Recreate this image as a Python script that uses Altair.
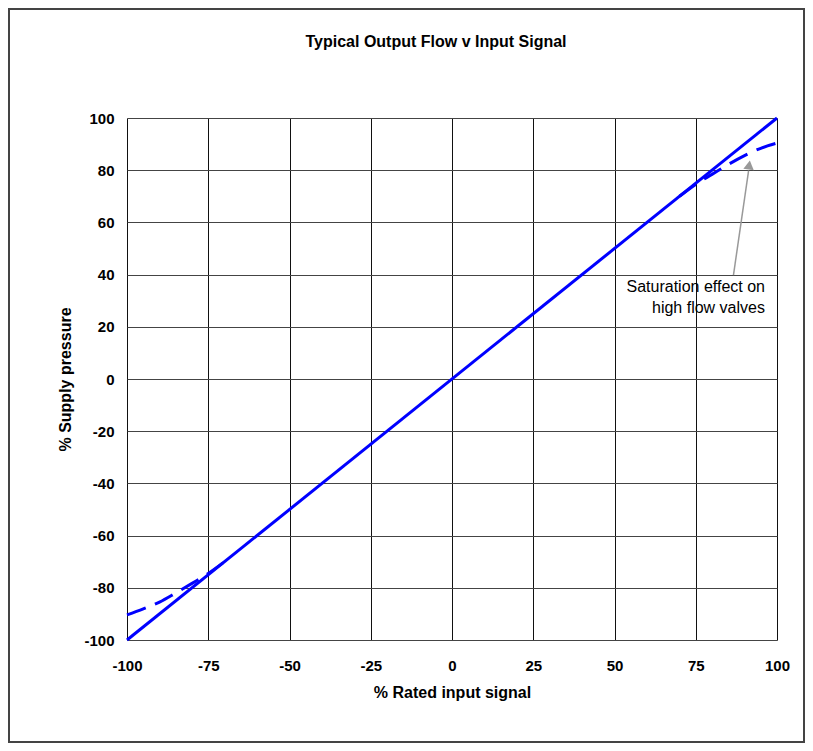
import altair as alt
import pandas as pd

# ---- data ----
linear_x = [-100, 100]
linear_y = [-100, 100]

sat_lower_x = [-100, -95, -90, -85, -80, -75, -70]
sat_lower_y = [-90.4, -88.1, -85.5, -82.0, -78.3, -74.5, -70.0]
sat_upper_x = [70, 75, 80, 85, 90, 95, 100]
sat_upper_y = [70.0, 74.6, 78.4, 82.2, 85.6, 88.4, 90.4]

x_ticks = [-100, -75, -50, -25, 0, 25, 50, 75, 100]
y_ticks = [-100, -80, -60, -40, -20, 0, 20, 40, 60, 80, 100]

note_lines = ["Saturation effect on", "high flow valves"]
note_x = [96.3, 96.3]
note_y = [35.2, 27.2]

arrow_tail = (86.6, 39.8)
arrow_base = (91.26, 79.8)
arrow_head_center = (91.45, 82.0)

title_text = "Typical Output Flow v Input Signal"
x_title = "% Rated input signal"
y_title = "% Supply pressure"

FONT = "Liberation Sans"
BLUE = "#0000FF"

lin_df = pd.DataFrame({"x": linear_x, "y": linear_y})
sat_df = pd.concat([
    pd.DataFrame({"x": sat_lower_x, "y": sat_lower_y, "g": "lower"}),
    pd.DataFrame({"x": sat_upper_x, "y": sat_upper_y, "g": "upper"}),
])
note_df = pd.DataFrame({"x": note_x, "y": note_y, "t": note_lines})
arrow_df = pd.DataFrame({"x": [arrow_tail[0]], "y": [arrow_tail[1]],
                         "x2": [arrow_base[0]], "y2": [arrow_base[1]]})
head_df = pd.DataFrame({"x": [arrow_head_center[0]], "y": [arrow_head_center[1]]})

xs = alt.Scale(domain=[-100, 100], nice=False, zero=False)
ys = alt.Scale(domain=[-100, 100], nice=False, zero=False)

x_axis = alt.Axis(values=x_ticks, title=x_title, grid=True, gridColor="#111",
                  gridOpacity=1, gridWidth=1, domain=False, ticks=False,
                  labelExpr="toString(datum.value)",
                  labelPadding=18, labelFontSize=15, labelFontWeight="bold",
                  labelFont=FONT, labelColor="#000", titleFont=FONT,
                  titleFontSize=16, titleFontWeight="bold", titleColor="#000",
                  titlePadding=11, labelFlush=False)
y_axis = alt.Axis(values=y_ticks, title=y_title, grid=True, gridColor="#444",
                  gridOpacity=1, gridWidth=1, domain=False, ticks=False,
                  labelExpr="toString(datum.value)",
                  labelPadding=13, labelFontSize=15, labelFontWeight="bold",
                  labelFont=FONT, labelColor="#000", titleFont=FONT,
                  titleFontSize=16, titleFontWeight="bold", titleColor="#000",
                  titlePadding=10, labelFlush=False)

frame = alt.Chart(alt.Data(values=[{}])).mark_rect(
    fill=None, stroke="#444", strokeWidth=2
).encode(
    x=alt.value(-118), x2=alt.value(677), y=alt.value(-109), y2=alt.value(624)
)

title = alt.Chart(alt.Data(values=[{}])).mark_text(
    text=title_text, font=FONT, fontSize=16, fontWeight="bold", color="#000",
    align="center", baseline="alphabetic"
).encode(x=alt.value(309), y=alt.value(-71))

solid = alt.Chart(lin_df).mark_line(color=BLUE, strokeWidth=3).encode(
    x=alt.X("x:Q", scale=xs, axis=x_axis),
    y=alt.Y("y:Q", scale=ys, axis=y_axis),
)

dashed = alt.Chart(sat_df).mark_line(
    color=BLUE, strokeWidth=3, strokeDash=[20, 10], interpolate="monotone"
).encode(
    x=alt.X("x:Q", scale=xs), y=alt.Y("y:Q", scale=ys), detail="g:N"
)

arrow = alt.Chart(arrow_df).mark_rule(color="#999999", strokeWidth=1.5).encode(
    x=alt.X("x:Q", scale=xs), y=alt.Y("y:Q", scale=ys), x2="x2:Q", y2="y2:Q"
)

head = alt.Chart(head_df).mark_point(
    shape="triangle-up", filled=True, color="#999999", size=110, angle=8, opacity=1
).encode(x=alt.X("x:Q", scale=xs), y=alt.Y("y:Q", scale=ys))

note = alt.Chart(note_df).mark_text(
    align="right", baseline="middle", font=FONT, fontSize=16, color="#000"
).encode(x=alt.X("x:Q", scale=xs), y=alt.Y("y:Q", scale=ys), text="t:N")

chart = alt.layer(frame, title, solid, dashed, arrow, head, note).properties(
    width=650, height=522,
    autosize=alt.AutoSizeParams(type="none"),
    padding={"left": 119, "top": 110, "right": 28, "bottom": 103},
).configure_view(stroke="#333", strokeWidth=1).configure(background="white")

chart.save("out.html", embed_options={"renderer": "svg", "actions": False})
